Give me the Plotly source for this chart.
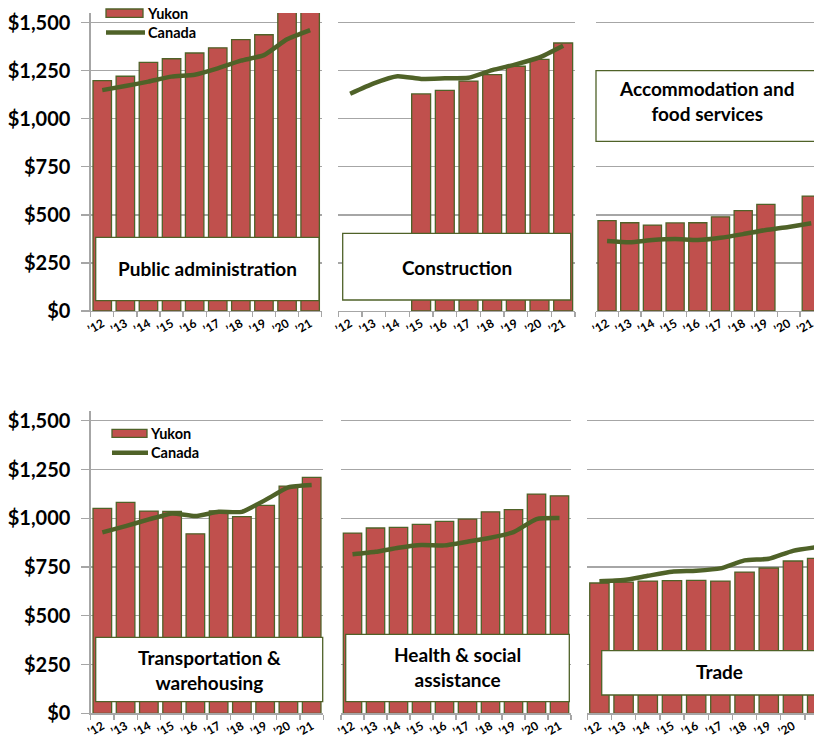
import plotly.graph_objects as go

W, H = 814, 738

years = ["\u201912", "\u201913", "\u201914", "\u201915", "\u201916",
         "\u201917", "\u201918", "\u201919", "\u201920", "\u201921"]
y_ticks = [0, 250, 500, 750, 1000, 1250, 1500]
y_tick_labels = ["$0", "$250", "$500", "$750", "$1,000", "$1,250", "$1,500"]

pub_yukon = [1198, 1221, 1293, 1312, 1342, 1369, 1411, 1437, 1560, 1580]
pub_canada = [1149, 1170, 1193, 1219, 1229, 1262, 1302, 1331, 1413, 1461]
con_yukon = [None, None, None, 1129, 1148, 1196, 1229, 1273, 1309, 1394]
con_canada = [1130, 1184, 1221, 1207, 1210, 1213, 1253, 1283, 1319, 1380]
acc_yukon = [470, 459, 447, 458, 459, 490, 522, 555, None, 598]
acc_canada = [364, 357, 369, 374, 369, 381, 400, 421, 437, 456]
trn_yukon = [1051, 1081, 1037, 1035, 920, 1038, 1008, 1066, 1165, 1210]
trn_canada = [928, 960, 994, 1025, 1011, 1033, 1033, 1093, 1158, 1170]
hea_yukon = [924, 950, 953, 969, 984, 996, 1033, 1044, 1124, 1115]
hea_canada = [815, 828, 849, 863, 861, 880, 900, 929, 996, 1001]
trd_yukon = [668, 673, 678, 680, 682, 678, 724, 745, 781, 794]
trd_canada = [677, 683, 705, 726, 731, 743, 784, 792, 833, 852]

titles = ["Public administration", "Construction", "Accommodation and<br>food services",
          "Transportation &amp;<br>warehousing", "Health &amp; social<br>assistance", "Trade"]

RED = "#C0504D"
GREEN = "#4F6228"
GRID = "#A6A6A6"
FONT = "Lato"


def px(x):
    return x / W


def py(y):
    return 1 - y / H


# panel geometry in window pixels: x0, x1, y_top, y_bottom, x-range upper, title box (x0,x1,y0,y1), title centre (x,y)
panels = [
    (pub_yukon, pub_canada, 90.7, 321.7, 13, 311, 9.5, (95.7, 319, 237.3, 300.7), (207.5, 269)),
    (con_yukon, con_canada, 338.3, 575, 13, 311, 9.5, (342.7, 570.7, 233.3, 300), (456.8, 267)),
    (acc_yukon, acc_canada, 595.7, 814, 13, 311, 9.12, (596, 817, 70.7, 141.3), (706.7, 101)),
    (trn_yukon, trn_canada, 90.7, 323.3, 411, 713.3, 9.5, (95.7, 322.7, 637.3, 701.7), (209, 670)),
    (hea_yukon, hea_canada, 341, 571, 411, 713.3, 9.5, (345.7, 569.3, 634.3, 701.7), (457.8, 667)),
    (trd_yukon, trd_canada, 587.3, 814, 411, 713.3, 8.87, (601.7, 837, 650.7, 695), (719.5, 671)),
]

fig = go.Figure()
shapes = []
annotations = []

for i, (yk, ca, x0, x1, yt, yb, xmax, box, tc) in enumerate(panels):
    n = "" if i == 0 else str(i + 1)
    xa, ya = "x" + n, "y" + n
    fig.add_trace(go.Bar(x=years, y=yk, xaxis=xa, yaxis=ya, name="Yukon",
                         marker=dict(color=RED, line=dict(color=GREEN, width=1.3)),
                         showlegend=False))
    fig.add_trace(go.Scatter(x=years, y=ca, xaxis=xa, yaxis=ya, name="Canada", mode="lines",
                             line=dict(color=GREEN, width=4.5, shape="spline", smoothing=0.5),
                             showlegend=False))
    first_col = i in (0, 3)
    fig.layout["xaxis" + n] = dict(
        domain=[px(x0), min(px(x1), 1.0)], anchor=ya, type="category", range=[-0.5, xmax],
        automargin=False,
        showline=True, linecolor=GRID, linewidth=1.3, ticks="outside", tickson="boundaries",
        ticklen=5, tickcolor=GRID, tickwidth=1.3, tickangle=-30, ticklabelstandoff=0,
        tickfont=dict(family=FONT, size=12, color="#000000", weight="bold"),
        showgrid=False, fixedrange=True)
    fig.layout["yaxis" + n] = dict(
        domain=[py(yb), py(yt)], anchor=xa, range=[0, 1550],
        tickmode="array", tickvals=y_ticks, ticktext=y_tick_labels,
        showticklabels=first_col, automargin=False,
        showline=first_col, linecolor=GRID, linewidth=1.3,
        ticks="outside" if first_col else "", ticklen=8, tickcolor=GRID, tickwidth=1.3,
        ticklabelstandoff=7,
        tickfont=dict(family=FONT, size=20, color="#000000", weight="bold"),
        showgrid=True, gridcolor=GRID, gridwidth=1.3, zeroline=False, fixedrange=True)
    bx0, bx1, by0, by1 = box
    shapes.append(dict(type="rect", xref="paper", yref="paper", layer="above",
                       x0=px(bx0), x1=px(bx1), y0=py(by1), y1=py(by0),
                       fillcolor="white", line=dict(color=GREEN, width=1.3)))
    annotations.append(dict(xref="paper", yref="paper", x=px(tc[0]), y=py(tc[1]),
                            text=titles[i], showarrow=False, xanchor="center", yanchor="middle",
                            font=dict(family=FONT, size=19, color="#000000", weight="bold")))

# legends (top-left and bottom-left panels)
for (rx0, rx1, ry0, ry1, ly, lx1, tx1, ty1, tx2, ty2) in [
        (106, 143, 9, 17.3, 32.5, 145, 144.5, 13.3, 145.5, 33),
        (112, 147, 429.3, 437.3, 452.7, 148, 147.5, 433.3, 149, 453)]:
    shapes.append(dict(type="rect", xref="paper", yref="paper", layer="above",
                       x0=px(rx0), x1=px(rx1), y0=py(ry1), y1=py(ry0),
                       fillcolor=RED, line=dict(color=GREEN, width=1.3)))
    shapes.append(dict(type="line", xref="paper", yref="paper", layer="above",
                       x0=px(rx0), x1=px(lx1), y0=py(ly), y1=py(ly),
                       line=dict(color=GREEN, width=4.5)))
    annotations.append(dict(xref="paper", yref="paper", x=px(tx1), y=py(ty1), text="Yukon",
                            showarrow=False, xanchor="left", yanchor="middle",
                            font=dict(family=FONT, size=14.5, color="#000000", weight="bold")))
    annotations.append(dict(xref="paper", yref="paper", x=px(tx2), y=py(ty2), text="Canada",
                            showarrow=False, xanchor="left", yanchor="middle",
                            font=dict(family=FONT, size=14.5, color="#000000", weight="bold")))

fig.update_layout(width=W, height=H, margin=dict(l=0, r=0, t=0, b=0, pad=0, autoexpand=False),
                  paper_bgcolor="white", plot_bgcolor="white", bargap=0.2,
                  shapes=shapes, annotations=annotations, showlegend=False,
                  font=dict(family=FONT, color="#000000"))

fig.write_html("out.html",
               config={"displayModeBar": False, "staticPlot": True},
               post_script="document.body.style.margin='0';"
                           "document.documentElement.style.overflow='hidden';")
